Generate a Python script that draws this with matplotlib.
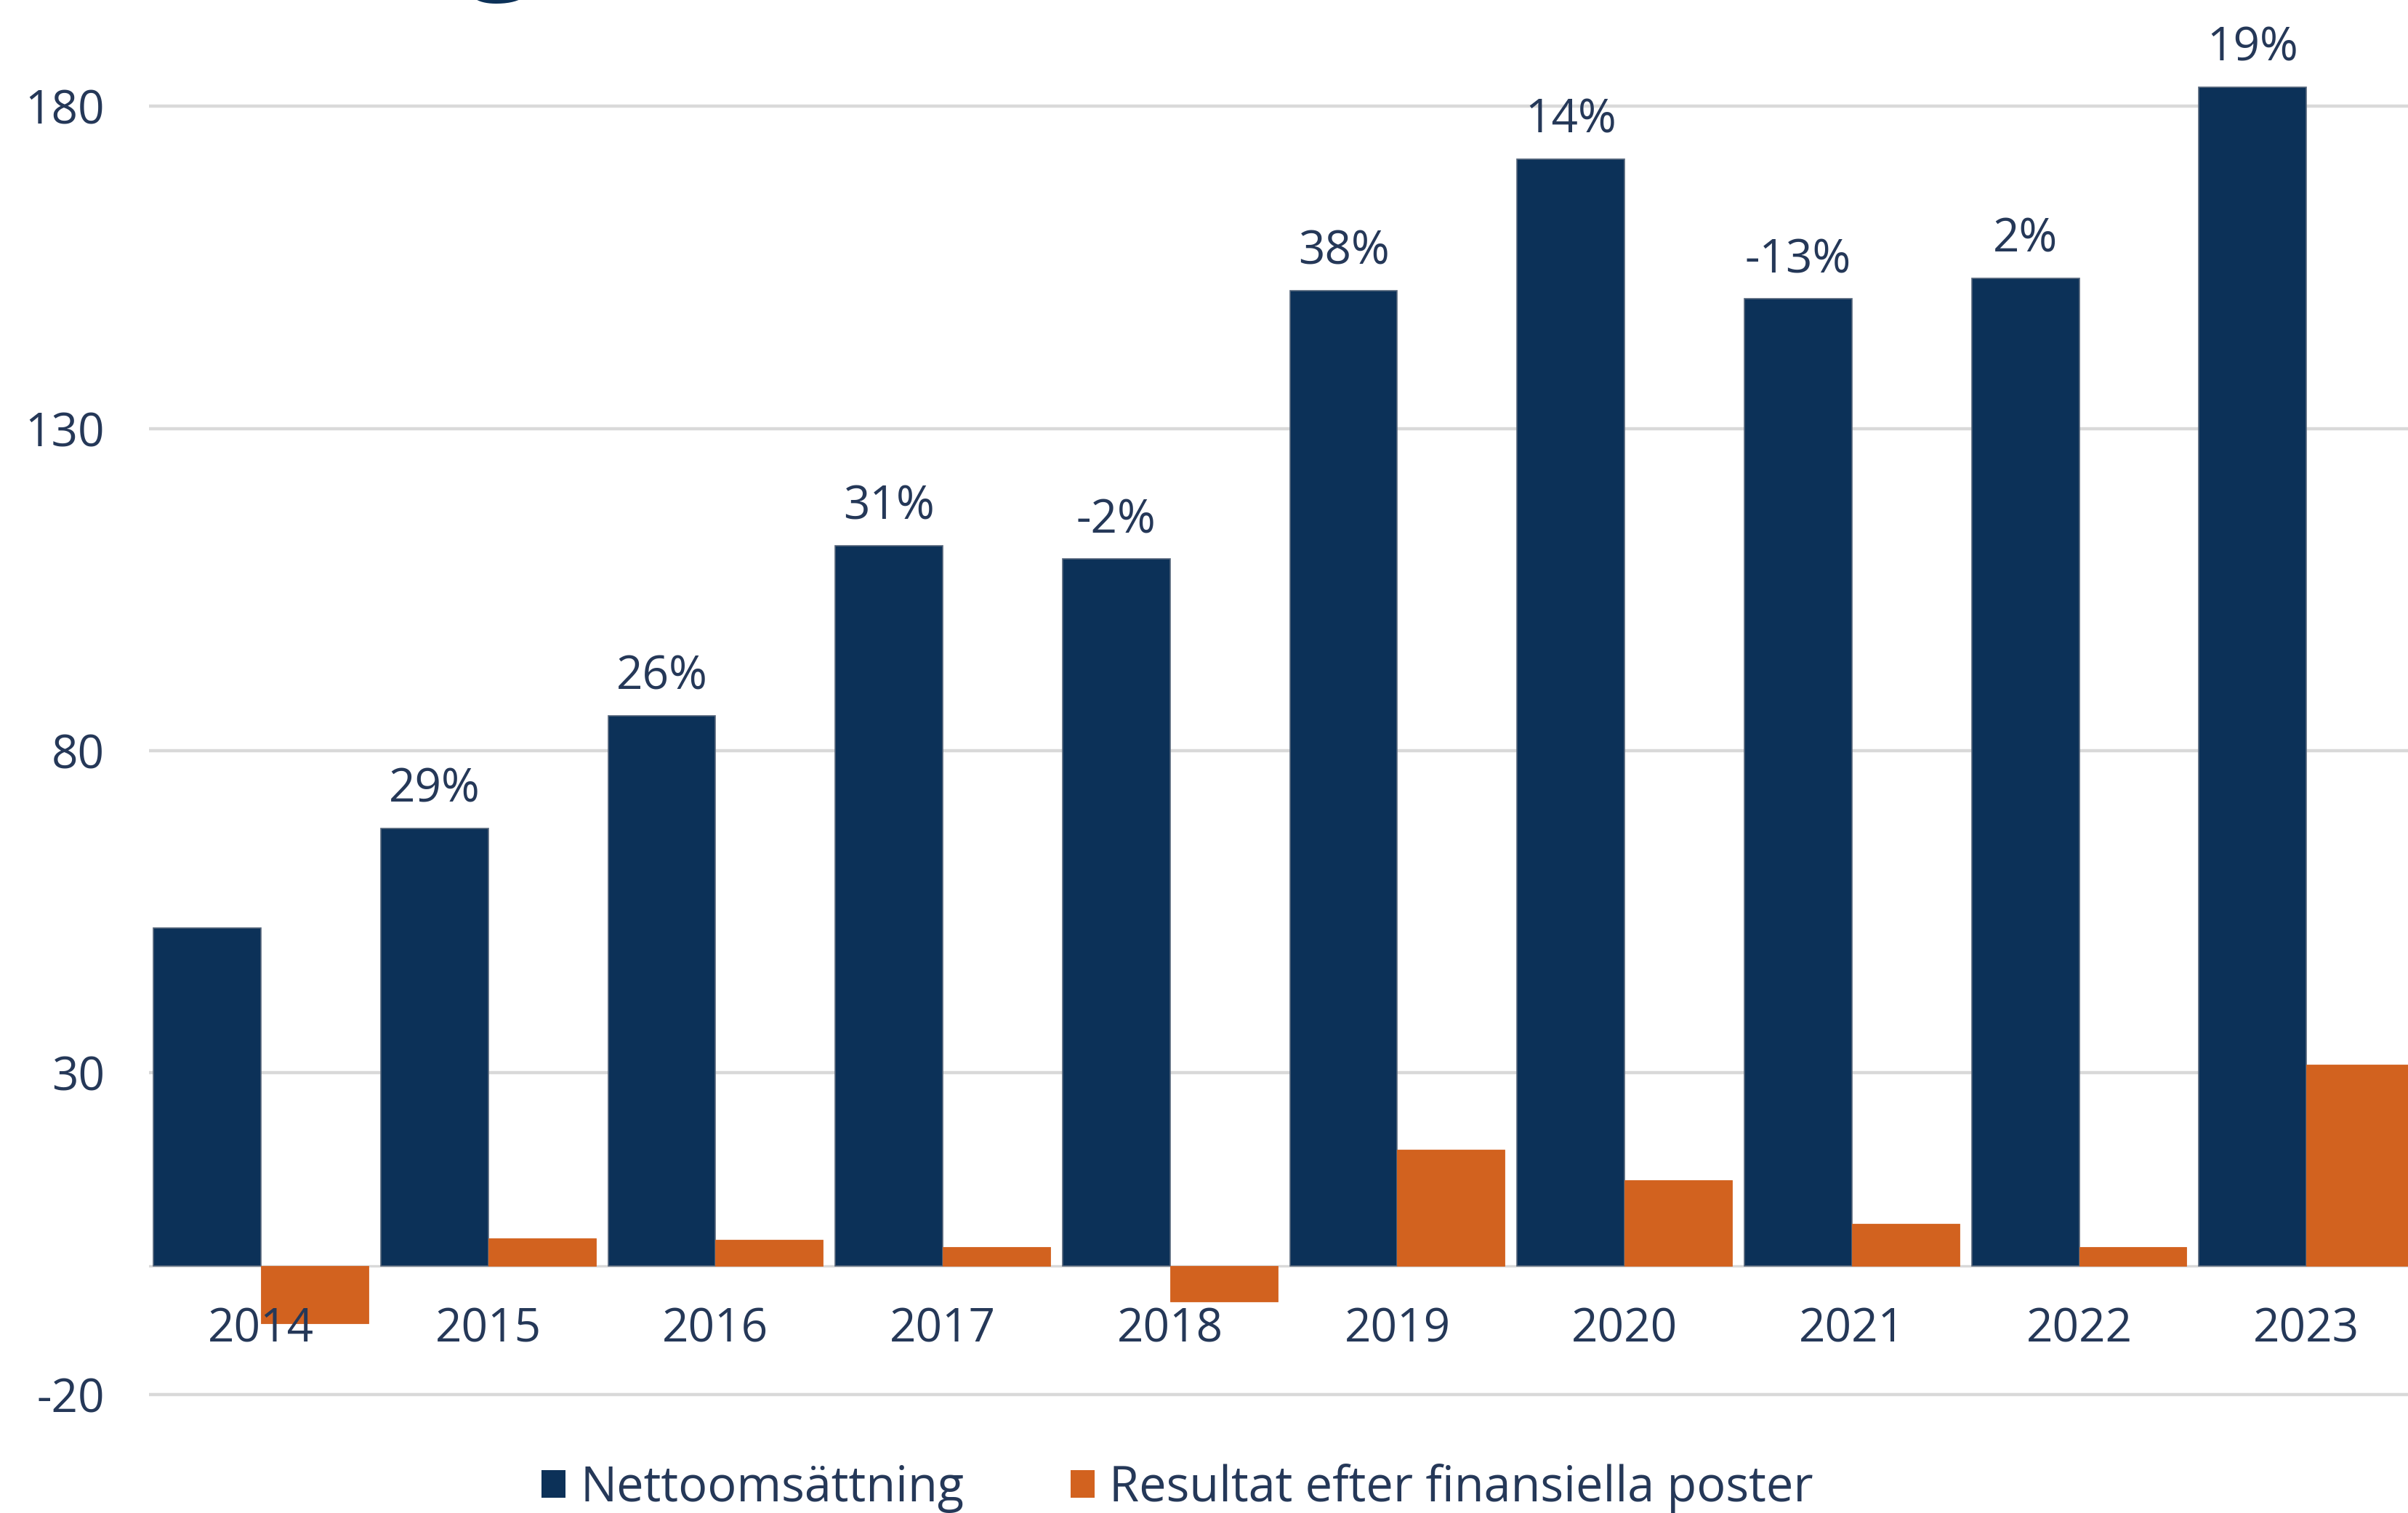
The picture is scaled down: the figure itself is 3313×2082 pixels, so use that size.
import matplotlib.pyplot as plt
import numpy as np
from matplotlib.patches import Patch

YEARS = ["2014", "2015", "2016", "2017", "2018", "2019", "2020", "2021", "2022", "2023"]
NETTOOMSATTNING = [52.5, 67.9, 85.4, 111.8, 109.7, 151.4, 171.8, 150.1, 153.3, 183.0]
RESULTAT = [-8.9, 4.3, 4.1, 2.9, -5.5, 18.1, 13.3, 6.5, 2.9, 31.2]
TILLVAXT = ["", "29%", "26%", "31%", "-2%", "38%", "14%", "-13%", "2%", "19%"]
Y_TICKS = [-20, 30, 80, 130, 180]

NAVY = "#0c3158"
ORANGE = "#d2621f"
TEXT = "#253858"
GRID = "#d9d9d9"
BAR_W = 0.473

plt.rcParams["font.family"] = ["Open Sans", "DejaVu Sans"]
plt.rcParams["axes.unicode_minus"] = False

fig = plt.figure(figsize=(16.565, 10.41), dpi=200)
ax = fig.add_axes([0.0619, 0.0526, 0.9381, 0.9474])

x = np.arange(len(YEARS))
ax.bar(x - BAR_W / 2, NETTOOMSATTNING, BAR_W, color=NAVY, edgecolor="#56667c",
       linewidth=0.6, zorder=2)
ax.bar(x + BAR_W / 2, RESULTAT, BAR_W, color=ORANGE, edgecolor=ORANGE,
       linewidth=0.3, zorder=2)

for y in Y_TICKS:
    ax.axhline(y, color=GRID, linewidth=1.6, zorder=0)
ax.axhline(0, color=GRID, linewidth=1.2, zorder=1)

# tillväxt i procent ovanför varje nettoomsättningsstapel
for xi, val, txt in zip(x, NETTOOMSATTNING, TILLVAXT):
    if txt:
        ax.annotate(txt, (xi - BAR_W / 2, val), xytext=(0, 13),
                    textcoords="offset points", ha="center", va="baseline",
                    fontsize=23, color=TEXT, zorder=4)

# årtal under nollinjen, ovanpå staplarna
for xi, year in zip(x, YEARS):
    ax.annotate(year, (xi, 0), xytext=(0, -37.5), textcoords="offset points",
                ha="center", va="baseline", fontsize=23, color=TEXT, zorder=4)

ax.set_xlim(-0.4925, 9.447)
ax.set_ylim(-26, 196.5)
ax.set_xticks([])
ax.set_yticks(Y_TICKS)
ax.tick_params(axis="y", length=0, pad=22, labelsize=23, labelcolor=TEXT)
for side in ["top", "right", "bottom", "left"]:
    ax.spines[side].set_visible(False)

handles = [Patch(facecolor=NAVY, label="Nettoomsättning"),
           Patch(facecolor=ORANGE, label="Resultat efter finansiella poster")]
fig.legend(handles=handles, loc="center", bbox_to_anchor=(0.489, 0.0165), ncol=2,
           frameon=False, fontsize=24, labelcolor=TEXT, handlelength=0.5,
           handleheight=0.5, handletextpad=0.3, columnspacing=2.2)

fig.text(0.208, 1.017, "g", fontsize=60, fontweight="bold", color=NAVY,
         ha="center", va="baseline")

fig.savefig("out.png", dpi=200)
